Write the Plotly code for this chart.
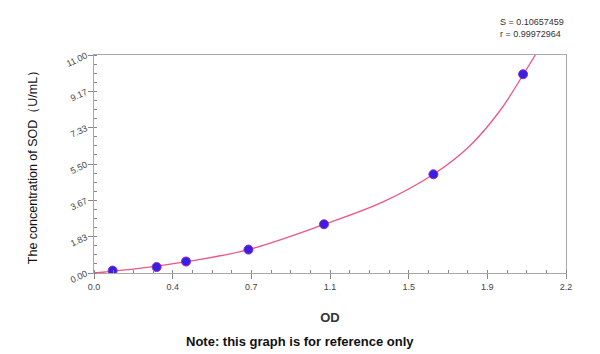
import plotly.graph_objects as go

# standard points (OD, concentration)
od = [0.087, 0.292, 0.429, 0.72, 1.072, 1.582, 2.0]
conc = [0.12, 0.30, 0.58, 1.18, 2.46, 4.98, 10.03]

# fitted curve
curve_od = [0.0, 0.05, 0.2, 0.429, 0.72, 1.072, 1.35, 1.582, 1.75, 1.893, 2.0, 2.057]
curve_conc = [0.0, 0.05, 0.22, 0.57, 1.18, 2.45, 3.6, 4.98, 6.4, 8.2, 10.0, 11.0]

x_tickvals = [0, 2.2/6, 2*2.2/6, 3*2.2/6, 4*2.2/6, 5*2.2/6, 2.2]
x_ticktext = ["0.0", "0.4", "0.7", "1.1", "1.5", "1.9", "2.2"]
y_tickvals = [0, 11/6, 2*11/6, 3*11/6, 4*11/6, 5*11/6, 11]
y_ticktext = ["0.00", "1.83", "3.67", "5.50", "7.33", "9.17", "11.00"]

fig = go.Figure()
fig.add_trace(go.Scatter(x=curve_od, y=curve_conc, mode="lines", line_shape="spline",
                         line=dict(color="#ee5588", width=1.3), hoverinfo="skip"))
fig.add_trace(go.Scatter(x=od, y=conc, mode="markers",
                         marker=dict(size=9, color="#3a1fe0", line=dict(color="#8a2bd0", width=1))))

axis_common = dict(showgrid=False, zeroline=False, showline=True, linecolor="#a8a8a8",
                   linewidth=1, mirror=True, ticks="outside", ticklen=5, tickcolor="#888",
                   tickfont=dict(family="Liberation Sans, Arial", size=9, color="#444"))

fig.update_xaxes(range=[0, 2.2], tickvals=x_tickvals, ticktext=x_ticktext,
                 minor=dict(tickvals=[i*2.2/24 for i in range(25)], ticks="inside", ticklen=3, tickcolor="#888"),
                 title=dict(text="<b>OD</b>", font=dict(family="Liberation Sans, Arial", size=13, color="#333"), standoff=22),
                 **axis_common)
fig.update_yaxes(range=[0, 11], tickvals=y_tickvals, ticktext=y_ticktext, tickangle=-25,
                 minor=dict(tickvals=[i*11/24 for i in range(25)], ticks="inside", ticklen=3, tickcolor="#888"),
                 title=dict(text="The concentration of SOD（U/mL）",
                            font=dict(family="Liberation Sans, Arial", size=12.5, color="#111"),
                            standoff=24),
                 **axis_common)

fig.add_annotation(xref="paper", yref="paper", x=1.0, y=1.0, yshift=14, xanchor="right", yanchor="bottom",
                   text="S = 0.10657459<br>r = 0.99972964", showarrow=False, align="left",
                   font=dict(family="Liberation Sans, Arial", size=9, color="#333"))
fig.add_annotation(xref="paper", yref="paper", x=(300-94)/472, y=0, yshift=-78, xanchor="center", yanchor="bottom",
                   text="<b>Note: this graph is for reference only</b>", showarrow=False,
                   font=dict(family="Liberation Sans, Arial", size=13, color="#111"))

fig.update_layout(width=600, height=354, margin=dict(l=94, r=34, t=55, b=81),
                  plot_bgcolor="white", paper_bgcolor="white", showlegend=False)
fig.write_html("out.html")
